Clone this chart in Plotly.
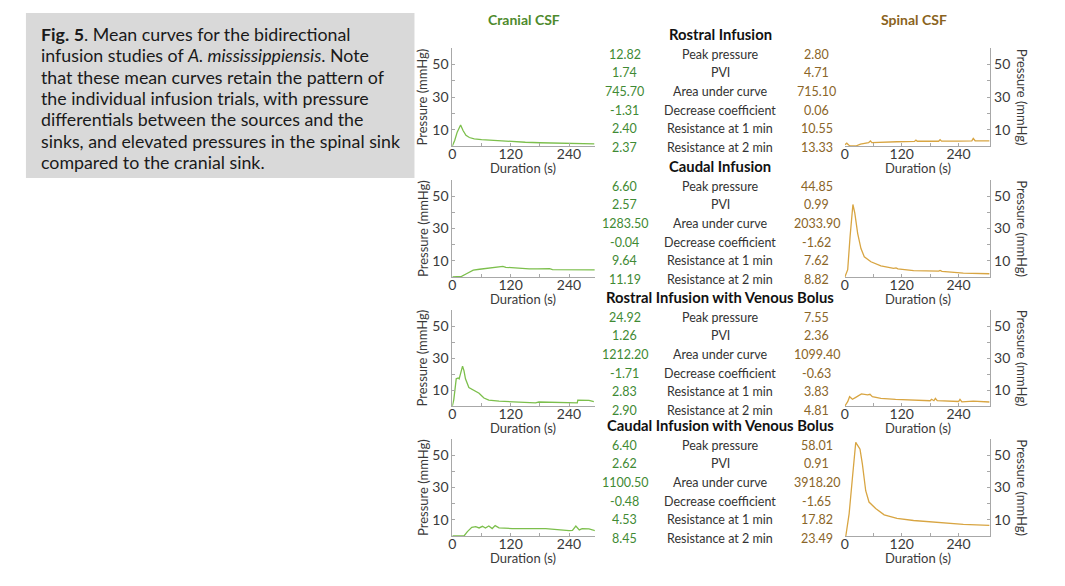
import plotly.graph_objects as go

W, H = 1065, 586
PAGE_MARGIN = 8  # default body margin of the html page

# Mean curves (time in s, pressure in mmHg)
rostral_cranial_t = [0, 5, 10, 17, 22, 28, 35, 45, 60, 80, 100, 120, 150, 180, 210, 240, 245, 252, 270, 292]
rostral_cranial_p = [0, 3.5, 8.5, 12.8, 9.5, 6.5, 5.2, 4.4, 3.9, 3.5, 3.2, 2.6, 2.3, 2.0, 1.8, 1.5, 1.9, 1.6, 1.4, 1.3]
rostral_spinal_t = [0, 4, 8, 12, 23, 33, 50, 54, 57, 75, 110, 147, 150, 153, 198, 201, 204, 240, 268, 271, 275, 305]
rostral_spinal_p = [0.8, 1.7, 0.6, 0, 0, 1.2, 2.0, 3.1, 2.1, 2.4, 2.6, 2.8, 3.6, 2.9, 2.9, 3.9, 3.0, 3.0, 3.1, 4.6, 3.2, 3.1]

caudal_cranial_t = [0, 19, 29, 43, 56, 70, 77, 85, 90, 97, 104, 110, 124, 140, 158, 175, 193, 200, 206, 225, 247, 270, 293]
caudal_cranial_p = [0, 0.4, 2.0, 4.2, 4.8, 5.3, 5.6, 5.9, 6.1, 5.9, 6.6, 6.0, 5.6, 5.3, 5.0, 5.0, 5.0, 5.2, 4.6, 4.5, 4.4, 4.5, 4.4]
caudal_spinal_t = [0, 6, 11, 17, 21, 27, 34, 41, 55, 76, 103, 108, 112, 145, 198, 201, 205, 250, 305]
caudal_spinal_p = [0, 4.5, 25, 44.85, 39.5, 27, 17.6, 12.5, 9.4, 6.9, 5.3, 5.6, 5.0, 4.0, 3.6, 4.1, 3.5, 2.4, 2.0]

rostral_bolus_cranial_t = [0, 3, 8, 12, 14, 17, 21, 24, 27, 34, 41, 55, 65, 75, 96, 123, 171, 178, 226, 257, 258, 281, 291]
rostral_bolus_cranial_p = [0, 4, 17, 17.5, 17, 20, 24.92, 22, 17, 11.5, 10.5, 8, 5, 3.7, 3.0, 2.8, 2.0, 2.5, 2.0, 2.0, 3.7, 3.5, 2.8]
rostral_bolus_spinal_t = [0, 6, 10, 16, 23, 35, 48, 53, 58, 76, 107, 145, 180, 183, 188, 191, 195, 240, 243, 247, 271, 305]
rostral_bolus_spinal_p = [0, 2.7, 5.8, 4.2, 5.4, 7.55, 6.9, 7.3, 5.8, 4.8, 4.2, 3.8, 3.3, 4.2, 3.3, 4.8, 3.3, 2.8, 4.2, 2.6, 3.1, 2.5]

caudal_bolus_cranial_t = [0, 24, 31, 40, 48, 55, 62, 68, 75, 82, 88, 96, 123, 158, 192, 240, 247, 254, 261, 267, 281, 294]
caudal_bolus_cranial_p = [0, 0, 2.7, 5.4, 5.8, 5.0, 6.0, 4.9, 6.2, 4.6, 6.4, 5.0, 4.6, 4.4, 4.6, 3.3, 3.5, 6.2, 3.8, 4.6, 4.4, 3.3]
caudal_bolus_spinal_t = [2, 9, 16, 23, 25, 32, 37, 44, 51, 65, 83, 110, 145, 201, 250, 305]
caudal_bolus_spinal_p = [0, 13.7, 36, 58.01, 57, 53.7, 44.5, 28, 21, 17, 13.1, 10.9, 9.6, 8.4, 7.2, 6.6]

# Summary table
infusion_titles = ["Rostral Infusion", "Caudal Infusion",
                   "Rostral Infusion with Venous Bolus", "Caudal Infusion with Venous Bolus"]
metric_labels = ["Peak pressure", "PVI", "Area under curve", "Decrease coefficient",
                 "Resistance at 1 min", "Resistance at 2 min"]
rostral_cranial_stats = [12.82, 1.74, 745.70, -1.31, 2.40, 2.37]
rostral_spinal_stats = [2.80, 4.71, 715.10, 0.06, 10.55, 13.33]
caudal_cranial_stats = [6.60, 2.57, 1283.50, -0.04, 9.64, 11.19]
caudal_spinal_stats = [44.85, 0.99, 2033.90, -1.62, 7.62, 8.82]
rostral_bolus_cranial_stats = [24.92, 1.26, 1212.20, -1.71, 2.83, 2.90]
rostral_bolus_spinal_stats = [7.55, 2.36, 1099.40, -0.63, 3.83, 4.81]
caudal_bolus_cranial_stats = [6.40, 2.62, 1100.50, -0.48, 4.53, 8.45]
caudal_bolus_spinal_stats = [58.01, 0.91, 3918.20, -1.65, 17.82, 23.49]

caption_lines = [
    "<b>Fig.</b> <b>5</b>. Mean curves for the bidirectional",
    "infusion studies of <i>A. mississippiensis</i>. Note",
    "that these mean curves retain the pattern of",
    "the individual infusion trials, with pressure",
    "differentials between the sources and the",
    "sinks, and elevated pressures in the spinal sink",
    "compared to the cranial sink.",
]

FONT = "Lato"
GREEN_LINE = "#7cbf4c"
GOLD_LINE = "#d8a542"
GREEN_TEXT = "#3f8a34"
BROWN_TEXT = "#8a6528"
AXIS_COLOR = "#a8a8a8"
TICK_TEXT = "#3a3a3a"


def px(x):
    return (x - PAGE_MARGIN) / W


def py(y):
    return 1 - (y - PAGE_MARGIN) / H


def label(x, y, text, size, color, **kw):
    d = dict(x=px(x), y=py(y), xref="paper", yref="paper", text=text, showarrow=False,
             xanchor="center", yanchor="middle",
             font=dict(family=FONT, size=size, color=color))
    d.update(kw)
    return d


def main():
    panels = [
        (rostral_cranial_t, rostral_cranial_p, rostral_spinal_t, rostral_spinal_p,
         rostral_cranial_stats, rostral_spinal_stats),
        (caudal_cranial_t, caudal_cranial_p, caudal_spinal_t, caudal_spinal_p,
         caudal_cranial_stats, caudal_spinal_stats),
        (rostral_bolus_cranial_t, rostral_bolus_cranial_p, rostral_bolus_spinal_t, rostral_bolus_spinal_p,
         rostral_bolus_cranial_stats, rostral_bolus_spinal_stats),
        (caudal_bolus_cranial_t, caudal_bolus_cranial_p, caudal_bolus_spinal_t, caudal_bolus_spinal_p,
         caudal_bolus_cranial_stats, caudal_bolus_spinal_stats),
    ]
    tops = [48, 180, 310, 439]
    bottoms = [146, 277, 406, 536]
    title_ys = [34, 166, 297, 425]

    fig = go.Figure()
    layout = {}
    annotations = []

    for i, (ct, cp, st, sp, cstats, sstats) in enumerate(panels):
        nl, nr = 2 * i + 1, 2 * i + 2
        for n, t, p, color in [(nl, ct, cp, GREEN_LINE), (nr, st, sp, GOLD_LINE)]:
            fig.add_trace(go.Scatter(
                x=t, y=p, mode="lines", line=dict(color=color, width=1.3),
                xaxis="x%d" % n, yaxis="y%d" % n, showlegend=False, hoverinfo="skip"
            ))
            right = (n == nr)
            xdom = [px(844), px(990)] if right else [px(450), px(593)]
            xrange = [0, 307] if right else [0, 293]
            layout["xaxis%d" % n] = dict(
                domain=xdom, range=xrange, anchor="y%d" % n,
                showline=True, linecolor=AXIS_COLOR, linewidth=1,
                showgrid=False, zeroline=False,
                tickvals=[0, 60, 120, 180, 240], ticktext=["0", "", "120", "", "240"],
                ticks="inside", ticklen=3, tickcolor=AXIS_COLOR,
                ticklabelstandoff=-5,
                tickfont=dict(family=FONT, size=14, color=TICK_TEXT),
            )
            layout["yaxis%d" % n] = dict(
                domain=[py(bottoms[i]), py(tops[i])], range=[0, 60], anchor="x%d" % n,
                side="right" if right else "left",
                showline=True, linecolor=AXIS_COLOR, linewidth=1,
                showgrid=False, zeroline=False,
                tickvals=[10, 20, 30, 40, 50], ticktext=["10", "", "30", "", "50"],
                ticks="inside", ticklen=3, tickcolor=AXIS_COLOR,
                tickfont=dict(family=FONT, size=14, color=TICK_TEXT),
            )
            # axis titles
            annotations.append(label(917 if right else 521, bottoms[i] + 22,
                                     "Duration (s)", 13, TICK_TEXT))
            annotations.append(label(1022 if right else 420, (tops[i] + bottoms[i]) / 2,
                                     "Pressure (mmHg)", 13, TICK_TEXT,
                                     textangle=90 if right else -90))

        # table block
        annotations.append(label(719, title_ys[i], "<b>%s</b>" % infusion_titles[i], 14.8, "#111111"))
        for j, name in enumerate(metric_labels):
            yrow = title_ys[i] + 20 + 18.7 * j
            annotations.append(label(623, yrow, "%.2f" % cstats[j], 12.5, GREEN_TEXT))
            annotations.append(label(719, yrow, name, 12.5, "#333333"))
            annotations.append(label(816, yrow, "%.2f" % sstats[j], 12.5, BROWN_TEXT))

    # column headers
    annotations.append(label(522, 20, "<b>Cranial CSF</b>", 14, "#4e8a2c"))
    annotations.append(label(913, 20, "<b>Spinal CSF</b>", 14, "#8a6320"))

    # caption
    for k, line in enumerate(caption_lines):
        annotations.append(label(35, 34 + 21.3 * k, line, 17.8, "#1a1a1a", xanchor="left"))

    fig.update_layout(
        width=W, height=H,
        margin=dict(l=0, r=0, t=0, b=0),
        paper_bgcolor="white", plot_bgcolor="white",
        annotations=annotations,
        shapes=[dict(type="rect", xref="paper", yref="paper",
                     x0=px(22), x1=px(412), y0=py(178), y1=py(13),
                     fillcolor="#d9d9d9", line=dict(width=0), layer="below")],
        **layout
    )
    fig.write_html("out.html")


if __name__ == "__main__":
    main()
